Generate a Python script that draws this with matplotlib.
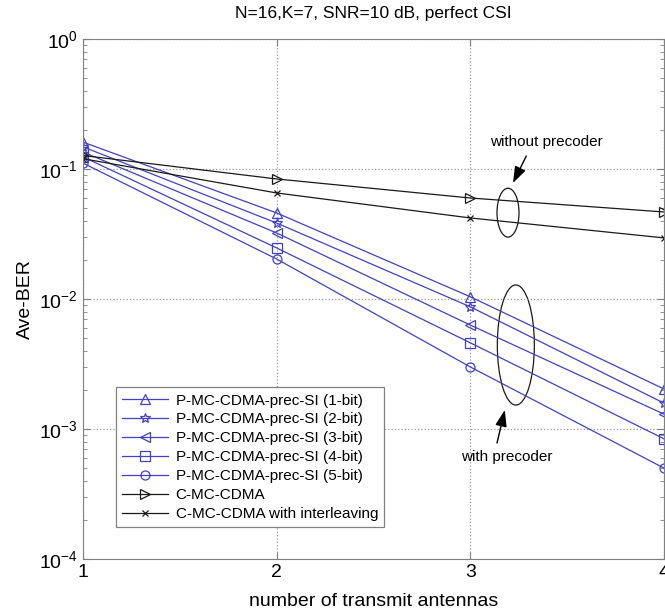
import matplotlib.pyplot as plt
from matplotlib.patches import Ellipse
from matplotlib.ticker import FixedLocator, LogLocator, NullFormatter

plt.rcParams['font.family'] = ['Liberation Sans', 'DejaVu Sans']
plt.rcParams['mathtext.fontset'] = 'custom'
plt.rcParams['mathtext.rm'] = 'Liberation Sans'
plt.rcParams['mathtext.it'] = 'Liberation Sans:italic'

# data
antennas = [1, 2, 3, 4]
ber_1bit = [0.161, 0.0459, 0.0104, 0.00203]
ber_2bit = [0.148, 0.0384, 0.0087, 0.00158]
ber_3bit = [0.135, 0.0322, 0.0063, 0.00130]
ber_4bit = [0.124, 0.0247, 0.0046, 0.00084]
ber_5bit = [0.111, 0.0203, 0.0030, 0.00050]
ber_cmc = [0.127, 0.0838, 0.0598, 0.0467]
ber_cmc_il = [0.120, 0.0654, 0.0420, 0.0295]

labels = ['P-MC-CDMA-prec-SI (1-bit)', 'P-MC-CDMA-prec-SI (2-bit)',
          'P-MC-CDMA-prec-SI (3-bit)', 'P-MC-CDMA-prec-SI (4-bit)',
          'P-MC-CDMA-prec-SI (5-bit)', 'C-MC-CDMA',
          'C-MC-CDMA with interleaving']

blue = (0.25, 0.25, 0.8)
dark = '#1a1a1a'

fig = plt.figure(figsize=(6.65, 6.15), dpi=100)
ax = fig.add_axes([0.1248, 0.0911, 0.8737, 0.8455])

series = [
    (ber_1bit, '^', blue, 7),
    (ber_2bit, '*', blue, 7),
    (ber_3bit, '<', blue, 7),
    (ber_4bit, 's', blue, 6.5),
    (ber_5bit, 'o', blue, 6.5),
    (ber_cmc, '>', dark, 7),
    (ber_cmc_il, 'x', dark, 5),
]
for (vals, mk, col, size), lab in zip(series, labels):
    ax.semilogy(antennas, vals, marker=mk, color=col, lw=0.9, ms=size,
                mfc='none', mec=col, mew=0.9, label=lab)

ax.set_xlim(1, 4)
ax.set_ylim(1e-4, 1)
ax.xaxis.set_major_locator(FixedLocator([1, 2, 3, 4]))
ax.yaxis.set_major_locator(LogLocator(base=10, numticks=10))
ax.yaxis.set_minor_locator(LogLocator(base=10, subs=range(2, 10), numticks=10))
ax.yaxis.set_minor_formatter(NullFormatter())

ax.grid(True, which='major', linestyle=':', color='#999999', lw=0.9)
ax.tick_params(which='both', direction='in', top=True, right=True,
               color='#808080', labelsize=14)
ax.tick_params(which='major', length=5)
ax.tick_params(which='minor', length=3)
for s in ax.spines.values():
    s.set_color('#808080')

ax.set_title('N=16,K=7, SNR=10 dB, perfect CSI', fontsize=12.5, pad=15)
ax.set_xlabel('number of transmit antennas', fontsize=14, labelpad=9)
ax.set_ylabel('Ave-BER', fontsize=14, labelpad=4)

leg = ax.legend(loc='lower left', bbox_to_anchor=(0.0568, 0.0615),
                borderaxespad=0, fontsize=11, fancybox=False,
                edgecolor='#808080', framealpha=1, handlelength=3,
                handletextpad=0.5, labelspacing=0.32, borderpad=0.4)
leg.get_frame().set_linewidth(0.9)

# annotations: ellipses around the curve groups
ax.add_patch(Ellipse((0.7315, 0.666), 0.0379, 0.094, transform=ax.transAxes,
                     fill=False, ec=dark, lw=0.9))
ax.add_patch(Ellipse((0.745, 0.4115), 0.0637, 0.231, transform=ax.transAxes,
                     fill=False, ec=dark, lw=0.9))

arrow = dict(arrowstyle='-|>,head_length=1.0,head_width=0.35', color='k',
             lw=1.0, shrinkA=0, shrinkB=0)
ax.annotate('', xy=(0.740, 0.723), xytext=(0.763, 0.775),
            xycoords='axes fraction', arrowprops=arrow)
ax.text(0.798, 0.802, 'without precoder', transform=ax.transAxes,
        ha='center', va='center', fontsize=11)
ax.annotate('', xy=(0.726, 0.2865), xytext=(0.7126, 0.223),
            xycoords='axes fraction', arrowprops=arrow)
ax.text(0.730, 0.196, 'with precoder', transform=ax.transAxes,
        ha='center', va='center', fontsize=11)

fig.savefig('out.png', dpi=100)
